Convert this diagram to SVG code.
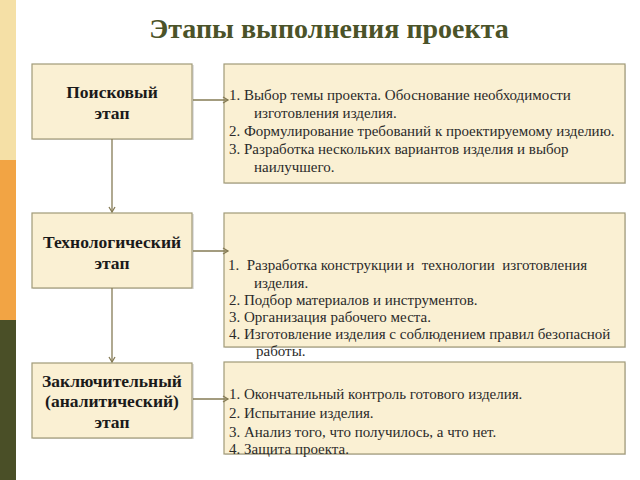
<svg xmlns="http://www.w3.org/2000/svg" width="640" height="480" viewBox="0 0 640 480">
<style>
.box{fill:#FAF0D3;stroke:#A09A78;stroke-width:1.2}
.shadow{fill:#000;opacity:0.12}
.stage{font-family:'Liberation Serif','Times New Roman',serif;font-weight:bold;font-size:17.5px;fill:#1a1a1a;text-anchor:middle}
.item{font-family:'Liberation Serif','Times New Roman',serif;font-size:15px;fill:#2a2a2a}
.title{font-family:'Liberation Serif','Times New Roman',serif;font-weight:bold;font-size:28px;fill:#4B5329;text-anchor:middle}
.conn{stroke:#857B55;stroke-width:1.3;fill:none}
</style>
<defs>
<marker id="arr" markerWidth="8" markerHeight="8" refX="6" refY="4" orient="auto" markerUnits="userSpaceOnUse">
<path d="M1,1 L6,4 L1,7" fill="none" stroke="#857B55" stroke-width="1.3"/>
</marker>
</defs>
<rect width="640" height="480" fill="#fff"/>
<rect x="0" y="0" width="16" height="160" fill="#F5E0A6"/>
<rect x="0" y="160" width="16" height="160" fill="#F2A444"/>
<rect x="0" y="320" width="16" height="160" fill="#4A4F27"/>
<text class="title" x="329" y="38">Этапы выполнения проекта</text>

<g id="stage1">
<rect class="shadow" x="33" y="65" width="161" height="75"/>
<rect class="box" x="32" y="64" width="160" height="75"/>
<text class="stage" x="112" y="98">Поисковый</text>
<text class="stage" x="112" y="119">этап</text>
</g>
<g id="tasks1">
<rect class="shadow" x="225" y="65" width="401" height="119"/>
<rect class="box" x="224" y="64" width="401" height="119"/>
<text class="item" x="229" y="100">1. Выбор темы проекта. Обоснование необходимости</text>
<text class="item" x="254" y="118">изготовления изделия.</text>
<text class="item" x="229" y="136">2. Формулирование требований к проектируемому изделию.</text>
<text class="item" x="229" y="154">3. Разработка нескольких вариантов изделия и выбор</text>
<text class="item" x="254" y="172">наилучшего.</text>
</g>

<g id="stage2">
<rect class="shadow" x="33" y="214" width="161" height="75"/>
<rect class="box" x="32" y="213" width="160" height="75"/>
<text class="stage" x="112" y="248">Технологический</text>
<text class="stage" x="112" y="269">этап</text>
</g>
<g id="tasks2">
<rect class="shadow" x="225" y="214" width="401" height="134"/>
<rect class="box" x="224" y="213" width="401" height="134"/>
<text class="item" x="228" y="270" xml:space="preserve">1.  Разработка конструкции и  технологии  изготовления</text>
<text class="item" x="254" y="288">изделия.</text>
<text class="item" x="229" y="305">2. Подбор материалов и инструментов.</text>
<text class="item" x="229" y="322">3. Организация рабочего места.</text>
<text class="item" x="229" y="339">4. Изготовление изделия с соблюдением правил безопасной</text>
<text class="item" x="256" y="356">работы.</text>
</g>

<g id="stage3">
<rect class="shadow" x="33" y="364" width="161" height="75"/>
<rect class="box" x="32" y="363" width="160" height="75"/>
<text class="stage" x="112" y="387">Заключительный</text>
<text class="stage" x="112" y="407">(аналитический)</text>
<text class="stage" x="112" y="428">этап</text>
</g>
<g id="tasks3">
<rect class="shadow" x="225" y="363" width="401" height="92"/>
<rect class="box" x="224" y="362" width="401" height="92"/>
<text class="item" x="229" y="399">1. Окончательный контроль готового изделия.</text>
<text class="item" x="229" y="418">2. Испытание изделия.</text>
<text class="item" x="229" y="437">3. Анализ того, что получилось, а что нет.</text>
<text class="item" x="229" y="454">4. Защита проекта.</text>
</g>

<g id="connectors">
<line class="conn" x1="112" y1="139" x2="112" y2="212" marker-end="url(#arr)"/>
<line class="conn" x1="112" y1="288" x2="112" y2="362" marker-end="url(#arr)"/>
<line class="conn" x1="193" y1="100" x2="228" y2="100" marker-end="url(#arr)"/>
<line class="conn" x1="193" y1="251" x2="228" y2="251" marker-end="url(#arr)"/>
<line class="conn" x1="193" y1="399" x2="228" y2="399" marker-end="url(#arr)"/>
</g>
</svg>
